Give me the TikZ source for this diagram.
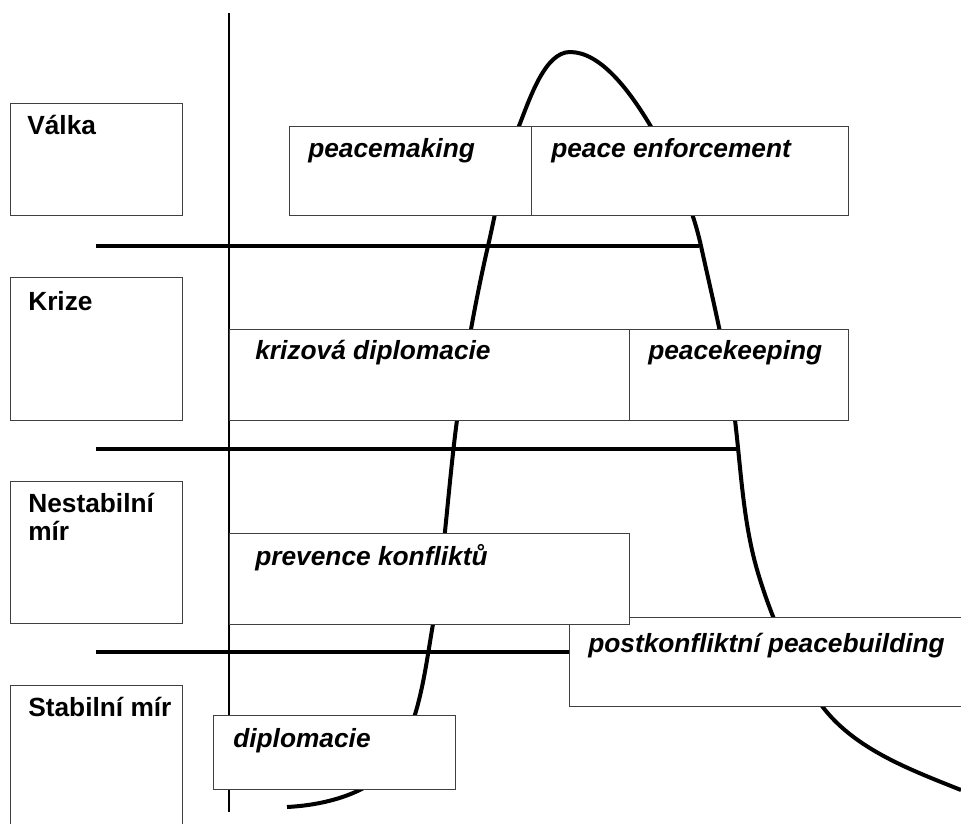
\documentclass[tikz,border=0pt]{standalone}
\usepackage{fontspec}
\setmainfont{Liberation Sans}
\usetikzlibrary{positioning}
\tikzstyle{level} = [rectangle, draw=black!75, line width=0.7pt, fill=white, anchor=north west, inner sep=0pt, minimum width=4.3cm]
\tikzstyle{phase} = [rectangle, draw=black!75, line width=0.7pt, fill=white, anchor=north west, inner sep=0pt]
\tikzstyle{leveltext} = [anchor=base west, inner sep=0pt, align=left, font=\fontsize{18.7}{19.9}\selectfont\bfseries]
\tikzstyle{phasetext} = [anchor=base west, inner sep=0pt, font=\fontsize{18.7}{19.9}\selectfont\bfseries\itshape]
\tikzstyle{divider} = [line width=3pt]
\tikzstyle{curve} = [line width=2.85pt, line join=round]

\begin{document}
\begin{tikzpicture}[x=0.025cm, y=-0.025cm]
    \clip (0,0) rectangle (961,823);

    % Axis and dividers
    \coordinate (axtop) at (229,13);
    \coordinate (axbot) at (229,812);
    \draw[line width=0.8pt] (axtop) -- (axbot);
    \draw[divider] (96,246) -- (699,246);
    \draw[divider] (96,449) -- (738,449);
    \draw[divider] (96,652) -- (575,652);

    % Conflict curve
    \draw[curve] (287,807) .. controls (326,805) and (374,793) .. (395,760)
        .. controls (420,720) and (425,670) .. (433,624)
        .. controls (444.5,556.5) and (448,488) .. (457,420)
        .. controls (464.6,361.6) and (474.8,303.4) .. (488,246)
        .. controls (497.3,205.7) and (503.7,164.4) .. (519,126)
        .. controls (530,98) and (545,52) .. (570,52)
        .. controls (600,52) and (628.4,89) .. (650,125)
        .. controls (672.5,162.5) and (691.6,203.2) .. (701,246)
        .. controls (713.7,303.7) and (728,361.3) .. (735,420)
        .. controls (741.1,471.2) and (743.2,523.6) .. (758,573)
        .. controls (772.1,620.1) and (792.5,666.6) .. (822,706)
        .. controls (854.5,749.3) and (910.8,769.9) .. (961,790);

    % Levels
    \node[level, minimum height=2.8cm] (valka) at (10,103) {};
    \node[level, minimum height=3.575cm] (krize) at (10,277) {};
    \node[level, minimum height=3.55cm] (nestab) at (10,481) {};
    \node[level, minimum height=3.75cm] (stab) at (10,685) {};
    \node[leveltext] (tvalka) at (27,134) {Válka};
    \node[leveltext] (tkrize) at (28,310) {Krize};
    \node[leveltext] (tnestab) at (28,540) {Nestabilní\\mír};
    \node[leveltext] (tstab) at (28,716) {Stabilní mír};

    % Phases
    \node[phase, minimum width=6.05cm, minimum height=2.225cm] (pmaking) at (289,126) {};
    \node[phase, minimum width=7.925cm, minimum height=2.225cm] (penforce) at (531,126) {};
    \node[phase, minimum width=10cm, minimum height=2.275cm] (krizdipl) at (229,329) {};
    \node[phase, minimum width=5.475cm, minimum height=2.275cm] (pkeeping) at (629,329) {};
    \node[phase, minimum width=10.25cm, minimum height=2.225cm] (pbuilding) at (569,617) {};
    \node[phase, minimum width=10cm, minimum height=2.275cm] (prevence) at (229,533) {};
    \node[phase, minimum width=6.05cm, minimum height=1.85cm] (dipl) at (213,715) {};

    \node[phasetext] (tpmaking) at (308,157) {peacemaking};
    \node[phasetext] (tpenforce) at (551,157) {peace enforcement};
    \node[phasetext] (tkrizdipl) at (255,359) {krizová diplomacie};
    \node[phasetext] (tpkeeping) at (648,359) {peacekeeping};
    \node[phasetext] (tprevence) at (255,565) {prevence konfliktů};
    \node[phasetext] (tpbuilding) at (588,652) {postkonfliktní peacebuilding};
    \node[phasetext] (tdipl) at (233,747) {diplomacie};
\end{tikzpicture}
\end{document}
